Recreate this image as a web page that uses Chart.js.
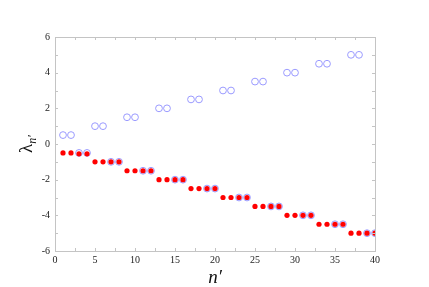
<!DOCTYPE html>
<html>
<head>
<meta charset="utf-8">
<script src="https://cdn.jsdelivr.net/npm/chart.js@4/dist/chart.umd.min.js"></script>
<style>
  html, body { margin: 0; padding: 0; background: #fff; }
</style>
</head>
<body>
<canvas id="grafico" width="429" height="287"></canvas>
<script>
// Puntos azules (círculos abiertos), rama positiva
const azulPosX = [1, 2, 5, 6, 9, 10, 13, 14, 17, 18, 21, 22, 25, 26, 29, 30, 33, 34, 37, 38]
const azulPosY = [0.5, 0.5, 1, 1, 1.5, 1.5, 2, 2, 2.5, 2.5, 3, 3, 3.5, 3.5, 4, 4, 4.5, 4.5, 5, 5]

// Puntos azules, rama negativa (quedan detrás de los rojos)
const azulNegX = [3, 4, 7, 8, 11, 12, 15, 16, 19, 20, 23, 24, 27, 28, 31, 32, 35, 36, 39, 40]
const azulNegY = [-0.5, -0.5, -1, -1, -1.5, -1.5, -2, -2, -2.5, -2.5, -3, -3, -3.5, -3.5, -4, -4, -4.5, -4.5, -5, -5]

// Puntos rojos (rellenos)
const rojoX = [1, 2, 3, 4, 5, 6, 7, 8, 9, 10, 11, 12, 13, 14, 15, 16, 17, 18, 19, 20,
               21, 22, 23, 24, 25, 26, 27, 28, 29, 30, 31, 32, 33, 34, 35, 36, 37, 38, 39, 40]
const rojoY = [-0.5, -0.5, -0.55, -0.55, -1, -1, -1, -1, -1.5, -1.5, -1.5, -1.5, -2, -2, -2, -2,
               -2.5, -2.5, -2.5, -2.5, -3, -3, -3, -3, -3.5, -3.5, -3.5, -3.5, -4, -4, -4, -4,
               -4.5, -4.5, -4.5, -4.5, -5, -5, -5, -5]

// Ejes
const ejeX = { min: 0, max: 40, paso: 5, marcas: 2.5 }
const ejeY = { min: -6, max: 6, paso: 2, marcas: 1 }

const juntar = (xs, ys) => xs.map((x, i) => ({ x: x, y: ys[i] }))

const colorEje = '#c4c4c4'
const fuente = "'Liberation Serif', 'DejaVu Serif', serif"

// Se dibuja el marco con marcas hacia adentro y los títulos de los ejes
const marcoPlugin = {
  id: 'marco',
  afterDraw(chart) {
    const ctx = chart.ctx
    const a = chart.chartArea
    const sx = chart.scales.x
    const sy = chart.scales.y
    const largo = 3

    ctx.save()
    ctx.strokeStyle = colorEje
    ctx.lineWidth = 1
    ctx.strokeRect(Math.round(a.left) + 0.5, Math.round(a.top) + 0.5,
      Math.round(a.right - a.left), Math.round(a.bottom - a.top))

    ctx.beginPath()
    for (let v = ejeX.min; v <= ejeX.max + 1e-9; v += ejeX.marcas) {
      const px = Math.round(sx.getPixelForValue(v)) + 0.5
      ctx.moveTo(px, a.bottom); ctx.lineTo(px, a.bottom - largo)
      ctx.moveTo(px, a.top); ctx.lineTo(px, a.top + largo)
    }
    for (let v = ejeY.min; v <= ejeY.max + 1e-9; v += ejeY.marcas) {
      const py = Math.round(sy.getPixelForValue(v)) + 0.5
      ctx.moveTo(a.left, py); ctx.lineTo(a.left + largo, py)
      ctx.moveTo(a.right, py); ctx.lineTo(a.right - largo, py)
    }
    ctx.stroke()

    // Título eje x: n'
    ctx.fillStyle = '#111'
    ctx.textAlign = 'center'
    ctx.textBaseline = 'alphabetic'
    ctx.font = 'italic 19px ' + fuente
    ctx.fillText('n′', (a.left + a.right) / 2, 283)

    // Título eje y: λ con subíndice n', rotado
    ctx.translate(27, (a.top + a.bottom) / 2)
    ctx.rotate(-Math.PI / 2)
    ctx.font = '19px ' + fuente
    const wL = ctx.measureText('λ').width
    ctx.font = 'italic 12px ' + fuente
    const wS = ctx.measureText('n′').width
    const inicio = -(wL + wS) / 2
    ctx.textAlign = 'left'
    ctx.font = '19px ' + fuente
    ctx.fillText('λ', inicio, 5)
    ctx.font = 'italic 12px ' + fuente
    ctx.fillText('n′', inicio + wL, 9)
    ctx.restore()
  }
}

const grafico = document.getElementById('grafico')
new Chart(grafico, {
  type: 'scatter',
  data: {
    datasets: [
      {
        label: 'rojo',
        data: juntar(rojoX, rojoY),
        backgroundColor: '#ff0000',
        borderColor: '#ff0000',
        borderWidth: 0,
        pointRadius: 2.6,
        order: 0
      },
      {
        label: 'azul',
        data: juntar(azulPosX, azulPosY).concat(juntar(azulNegX, azulNegY)),
        backgroundColor: 'rgba(0,0,0,0)',
        borderColor: '#9a9aff',
        borderWidth: 1,
        pointRadius: 3.4,
        order: 1
      }
    ]
  },
  plugins: [marcoPlugin],
  options: {
    responsive: false,
    animation: false,
    layout: { padding: { top: 37, right: 54, left: 0, bottom: 0 } },
    plugins: { legend: { display: false }, tooltip: { enabled: false } },
    scales: {
      x: {
        type: 'linear',
        min: ejeX.min,
        max: ejeX.max,
        grid: { display: false, drawTicks: false },
        border: { display: false },
        ticks: { stepSize: ejeX.paso, padding: 3, color: '#222', font: { family: fuente, size: 10 } },
        afterFit: (s) => { s.height = 36 }
      },
      y: {
        min: ejeY.min,
        max: ejeY.max,
        grid: { display: false, drawTicks: false },
        border: { display: false },
        ticks: { stepSize: ejeY.paso, padding: 5, color: '#222', font: { family: fuente, size: 10 } },
        afterFit: (s) => { s.width = 55 }
      }
    }
  }
})
</script>
</body>
</html>
